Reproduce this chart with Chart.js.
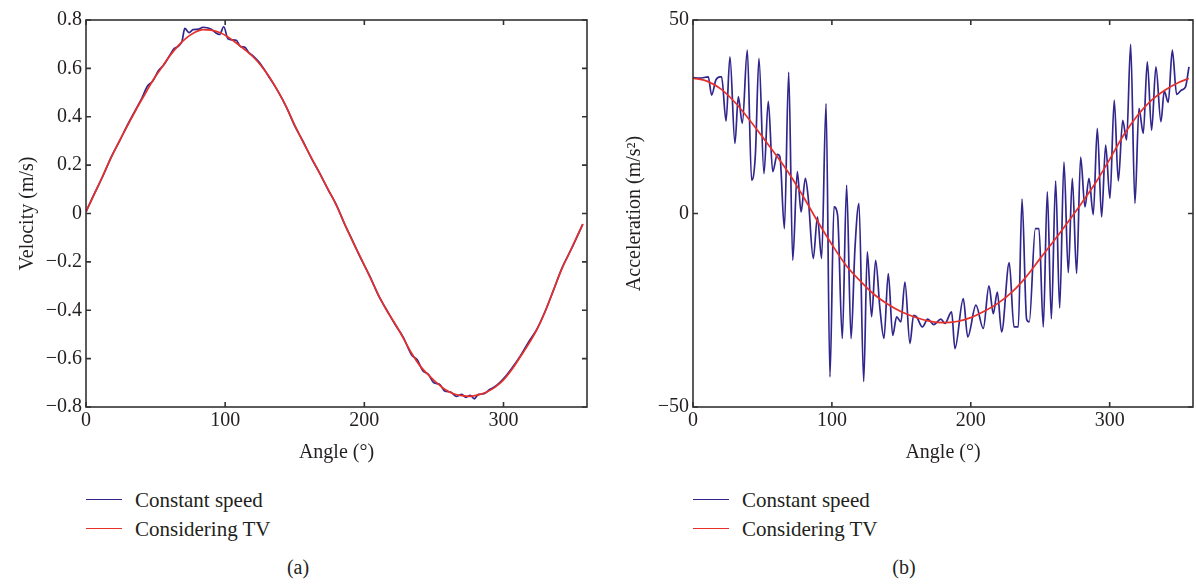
<!DOCTYPE html>
<html>
<head>
<meta charset="utf-8">
<script src="https://cdn.jsdelivr.net/npm/chart.js@4.4.1/dist/chart.umd.min.js"></script>
<style>
  html,body{margin:0;padding:0;background:#fff;}
  #wrap{position:relative;width:1196px;height:584px;background:#fff;font-family:"Liberation Serif","DejaVu Serif",serif;color:#231f20;}
  canvas{position:absolute;top:0;}
  .lg{position:absolute;font-size:21px;line-height:24px;white-space:nowrap;}
  .lgline{position:absolute;height:0;border-top:1.6px solid;}
  .cap{position:absolute;font-size:20px;line-height:24px;transform:translateX(-50%);}
</style>
</head>
<body>
<div id="wrap">
  <canvas id="ca" width="600" height="470" style="left:0;"></canvas>
  <canvas id="cb" width="596" height="470" style="left:600px;"></canvas>
  <div id="legA"></div>
  <div id="legB"></div>
  <div class="cap" style="left:298px;top:555px;">(a)</div>
  <div class="cap" style="left:904px;top:555px;">(b)</div>
</div>
<script>
// ---------- DATA ----------
const seriesNames = ['Constant speed', 'Considering TV'];
const xTicksLabel = 'Angle (°)';

// (a) Velocity – Considering TV
const velTVAngles = [0,6,12,18,24,30,36,42,48,54,60,66,72,78,84,90,96,102,108,114,120,126,132,138,144,150,156,162,168,174,180,186,192,198,204,210,216,222,228,234,240,246,252,258,264,270,276,282,288,294,300,306,312,318,324,330,336,342,348,354,357];
const velTV = [0.007,0.08,0.155,0.23,0.30,0.365,0.43,0.49,0.55,0.60,0.65,0.692,0.725,0.748,0.760,0.758,0.748,0.730,0.705,0.678,0.648,0.610,0.562,0.505,0.440,0.365,0.295,0.230,0.165,0.100,0.033,-0.045,-0.120,-0.190,-0.262,-0.335,-0.400,-0.455,-0.515,-0.578,-0.630,-0.667,-0.700,-0.728,-0.745,-0.753,-0.756,-0.750,-0.738,-0.718,-0.688,-0.645,-0.593,-0.540,-0.480,-0.405,-0.315,-0.228,-0.155,-0.080,-0.044];

// (a) Velocity – Constant speed
const velCSAngles = [0,6,12,18,24,30,36,40,44,48,52,56,60,63,66,69,71,74,77,81,84,87,90,93,96,99,102,105,108,111,114,117,120,124,128,132,138,144,150,156,162,168,174,180,186,192,198,204,210,216,222,228,234,238,242,246,250,254,258,262,266,270,273,276,279,282,286,290,294,298,302,306,312,318,324,330,336,342,348,354,357];
const velCS = [0.007,0.082,0.153,0.232,0.298,0.368,0.432,0.475,0.525,0.548,0.590,0.615,0.652,0.680,0.690,0.712,0.765,0.748,0.760,0.762,0.770,0.768,0.762,0.748,0.740,0.772,0.722,0.718,0.716,0.690,0.688,0.665,0.652,0.628,0.596,0.560,0.505,0.440,0.362,0.298,0.228,0.166,0.098,0.035,-0.046,-0.118,-0.192,-0.260,-0.337,-0.398,-0.458,-0.512,-0.585,-0.605,-0.650,-0.665,-0.700,-0.706,-0.735,-0.738,-0.756,-0.748,-0.760,-0.752,-0.766,-0.748,-0.745,-0.728,-0.715,-0.695,-0.670,-0.640,-0.590,-0.532,-0.478,-0.403,-0.316,-0.226,-0.156,-0.082,-0.044];

// (b) Acceleration – Considering TV
const accTVAngles = [0,10,20,30,40,50,60,70,80,90,100,110,120,130,140,150,160,170,180,190,200,210,220,230,240,250,260,270,280,290,300,310,320,330,340,350,357];
const accTV = [35.0,34.2,32.2,28.8,24.5,19.8,15.0,9.9,4.0,-2.2,-8.0,-13.3,-17.3,-20.8,-23.4,-25.4,-26.8,-27.8,-28.2,-27.9,-26.9,-25.2,-23.1,-20.2,-16.3,-11.6,-7.0,-2.2,2.8,8.0,14.0,20.2,25.3,29.2,31.9,33.9,34.9];

// (b) Acceleration – Constant speed
const accCSAngles = [0,5,11,13.4,16.5,19.4,20.6,23.8,26.6,30.2,32.6,35.5,39.1,42.2,44.9,47.5,51.1,54.2,57.4,60.7,62.6,65.8,68.9,71.8,75.1,77.8,80.9,83.0,86.6,89.6,92.6,95.8,98.6,101.5,104.1,107.5,110.6,113.8,116.6,119.5,122.9,125.5,128.6,131.5,134.6,137.5,140.6,143.8,146.6,149.7,152.6,156.2,158.8,161.0,165.1,169.0,173.3,178.5,181.4,186.2,188.6,194.6,197.8,203.7,209.0,213.1,216.2,219.1,222.2,227.7,231.1,234.2,236.9,240.2,242.1,246.5,249.1,252.2,255.1,258.0,261.1,264.0,267.1,270.2,273.1,276.2,279.1,282.2,285.1,288.2,291.1,294.2,297.1,300.2,303.3,306.2,309.4,312.2,315.1,318.2,321.1,324.2,327.1,330.2,333.3,336.9,339.3,342.2,345.1,348.2,351.8,354.6,357.1];
const accCS = [35.1,35.0,35.3,30.6,34.5,35.3,35.3,23.9,40.5,18.1,30.2,23.3,42.2,8.6,15.1,40.1,10.3,29.0,10.8,15.3,14.6,-3.9,36.5,-12.1,10.8,0.4,9.1,3.9,-11.6,-0.9,-11.6,28.4,-42.2,1.7,-0.4,-32.3,7.3,-32.3,-9.1,2.6,-43.4,-9.9,-26.7,-12.1,-24.6,-32.3,-15.5,-31.5,-26.7,-28.0,-17.7,-33.6,-26.3,-26.7,-29.3,-27.3,-28.7,-27.3,-28.4,-25.4,-34.9,-22.0,-31.9,-23.7,-29.7,-18.7,-25.9,-20.3,-30.6,-12.7,-29.3,-29.3,3.7,-27.3,-28.0,-3.9,-3.9,-29.3,5.6,-27.2,8.4,-24.4,13.3,-15.3,9.1,-15.5,14.6,1.7,9.1,-0.3,22.0,-0.9,17.7,3.9,29.3,8.4,24.1,19.0,43.7,2.6,27.2,20.7,39.2,21.5,37.9,23.7,31.6,28.7,42.2,30.8,31.9,32.7,37.9];

const velTicks = {min: -0.8, max: 0.8, step: 0.2};
const accTicks = {min: -50, max: 50, step: 50};
const angleTicks = {min: 0, max: 360, step: 100};

// ---------- STYLE ----------
const BLUE = '#30268c';
const RED = '#e8302a';
const FONT = '"Liberation Serif", "DejaVu Serif", serif';
const TXT = '#231f20';

const toXY = (xs, ys) => xs.map((x, i) => ({x, y: ys[i]}));
const fmt = v => {
  if (Math.abs(v) < 1e-9) return '0';
  const a = Math.abs(v);
  const s = Math.abs(a - Math.round(a)) < 1e-9 ? String(Math.round(a)) : a.toFixed(1);
  return (v < 0 ? '\u2212' : '') + s;
};

const framePlugin = {
  id: 'frame',
  afterDraw(chart) {
    const {ctx, chartArea: {left, right, top, bottom}, scales: {x, y}} = chart;
    ctx.save();
    ctx.strokeStyle = '#333';
    ctx.lineWidth = 1.6;
    ctx.strokeRect(left, top, right - left, bottom - top);
    const L = 5;
    ctx.beginPath();
    x.ticks.forEach(t => {
      const p = x.getPixelForValue(t.value);
      ctx.moveTo(p, bottom); ctx.lineTo(p, bottom - L);
      ctx.moveTo(p, top); ctx.lineTo(p, top + L);
    });
    y.ticks.forEach(t => {
      const p = y.getPixelForValue(t.value);
      ctx.moveTo(left, p); ctx.lineTo(left + L, p);
      ctx.moveTo(right, p); ctx.lineTo(right - L, p);
    });
    ctx.stroke();
    ctx.restore();
  }
};

function makeChart(id, csData, tvData, yT, yTitle, yAxisW, yTitlePad, rightPad) {
  return new Chart(document.getElementById(id), {
    type: 'line',
    data: {
      datasets: [
        {label: seriesNames[0], data: csData, borderColor: BLUE, borderWidth: 1.7, order: 2},
        {label: seriesNames[1], data: tvData, borderColor: RED, borderWidth: 1.7, order: 1}
      ]
    },
    options: {
      responsive: false,
      animation: false,
      layout: {padding: {top: 20, right: rightPad, left: 0, bottom: 0}},
      plugins: {legend: {display: false}, tooltip: {enabled: false}},
      elements: {point: {radius: 0}, line: {cubicInterpolationMode: 'monotone', fill: false}},
      scales: {
        x: {
          type: 'linear', min: angleTicks.min, max: angleTicks.max,
          ticks: {stepSize: angleTicks.step, includeBounds: false, padding: 2, color: TXT, font: {family: FONT, size: 20}, maxRotation: 0, callback: fmt},
          grid: {display: false, drawTicks: false},
          border: {display: false},
          title: {display: true, text: xTicksLabel, color: TXT, font: {family: FONT, size: 20}, padding: {top: 0, bottom: 5}},
          afterFit(s) { s.height = 63; }
        },
        y: {
          type: 'linear', min: yT.min, max: yT.max,
          ticks: {stepSize: yT.step, padding: 4, color: TXT, font: {family: FONT, size: 20}, callback: fmt},
          grid: {display: false, drawTicks: false},
          border: {display: false},
          title: {display: true, text: yTitle, color: TXT, font: {family: FONT, size: 20}, padding: {top: yTitlePad, bottom: 0}},
          afterFit(s) { s.width = yAxisW; }
        }
      }
    },
    plugins: [framePlugin]
  });
}

const chA = makeChart('ca', toXY(velCSAngles, velCS), toXY(velTVAngles, velTV), velTicks, 'Velocity (m/s)', 86, 16, 13);
const chB = makeChart('cb', toXY(accCSAngles, accCS), toXY(accTVAngles, accTV), accTicks, 'Acceleration (m/s\u00B2)', 93, 23, 3);

// HTML legends built from the datasets
function buildLegend(chart, el, x0) {
  chart.data.datasets.forEach((ds, i) => {
    const yc = 500 + i * 28.5;
    const line = document.createElement('div');
    line.className = 'lgline';
    line.style.left = x0 + 'px';
    line.style.width = '36px';
    line.style.top = (yc - 0.8) + 'px';
    line.style.borderTopColor = ds.borderColor;
    el.appendChild(line);
    const t = document.createElement('div');
    t.className = 'lg';
    t.style.left = (x0 + 49) + 'px';
    t.style.top = (yc - 12) + 'px';
    t.textContent = ds.label;
    el.appendChild(t);
  });
}
buildLegend(chA, document.getElementById('legA'), 86);
buildLegend(chB, document.getElementById('legB'), 693);
</script>
</body>
</html>
